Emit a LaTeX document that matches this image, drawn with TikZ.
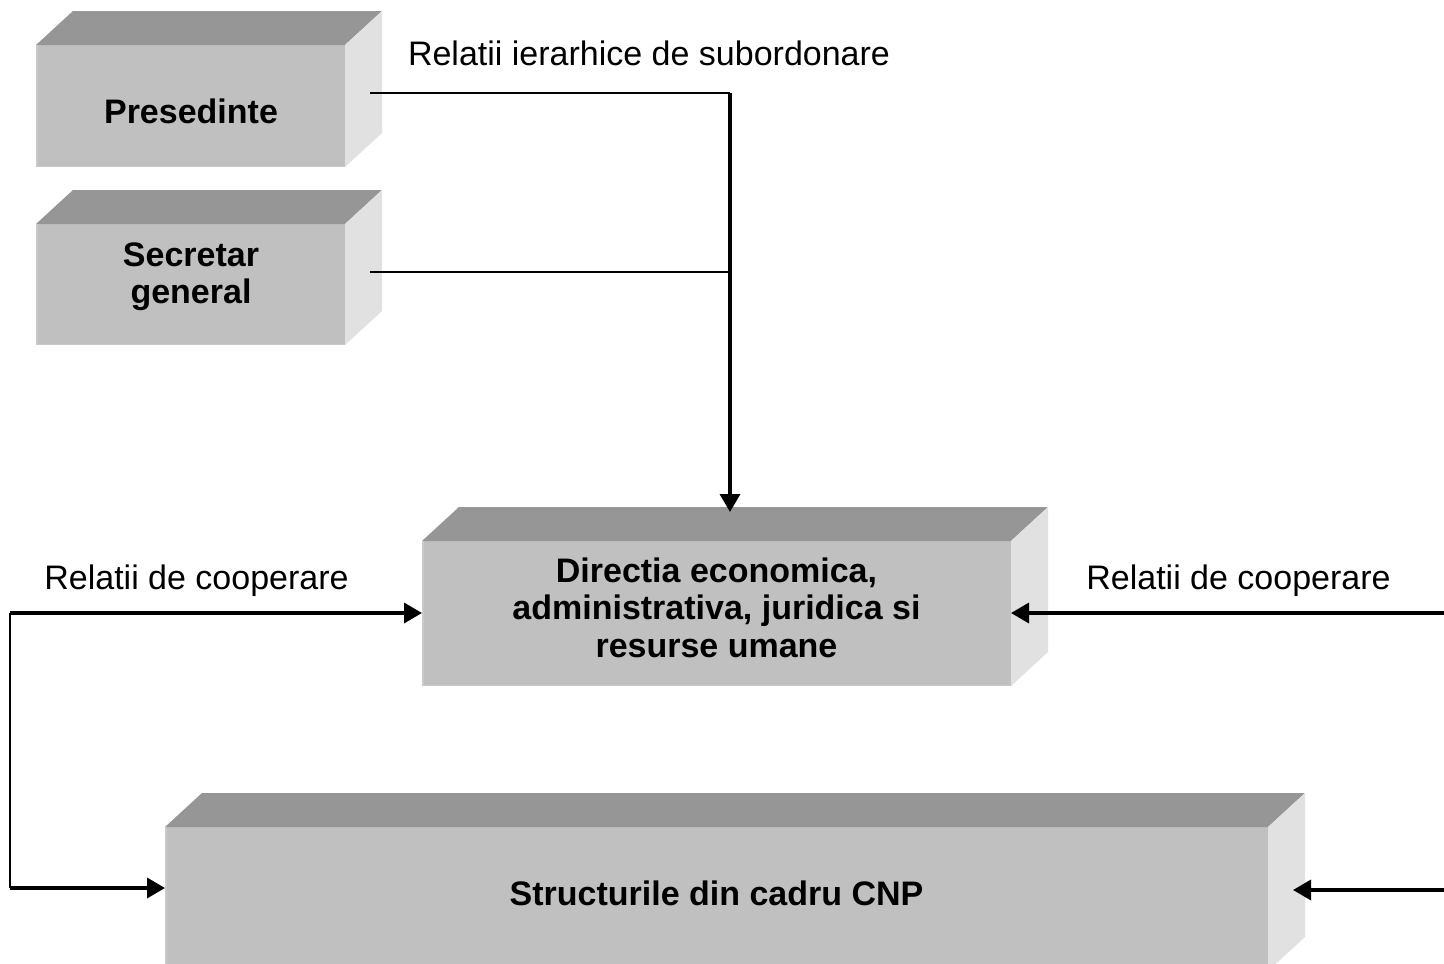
\documentclass[tikz,border=0pt]{standalone}
\usepackage{fontspec}
\setmainfont{Liberation Sans}
\usetikzlibrary{arrows.meta}
\definecolor{facefront}{HTML}{C0C0C0}
\definecolor{facetop}{HTML}{969696}
\definecolor{faceside}{HTML}{E1E1E1}
\definecolor{faceedge}{HTML}{C9C9C9}
\begin{document}
\begin{tikzpicture}[x=1pt,y=-1pt,
  face/.style={fill=facefront, draw=none, inner sep=0pt, outer sep=0pt},
  boxtext/.style={font=\fontsize{34pt}{37.5pt}\selectfont\bfseries, align=center, inner sep=0pt},
  lbl/.style={font=\fontsize{34pt}{36pt}\selectfont, inner sep=0pt, anchor=base},
  feed/.style={line width=2.2pt, line cap=square},
  arr/.style={line width=3.5pt, -{Triangle[length=18pt,width=20pt]}},
]
\clip (0,0) rectangle (1444,964);
\fill[white] (0,0) rectangle (1444,964);

% front faces of the blocks
\node[face, minimum width=309pt, minimum height=122pt] (pres) at (190.5,106) {};
\node[face, minimum width=309pt, minimum height=121pt] (sec) at (190.5,284.5) {};
\node[face, minimum width=589pt, minimum height=145pt] (dir) at (716.5,613.5) {};
\node[face, minimum width=1103pt, minimum height=144pt] (str) at (716.5,899) {};

% top and side faces giving the blocks their depth
\foreach \n in {pres,sec,dir,str} {
  \fill[facetop] (\n.north west) -- ++(37,-34) -- ([shift={(37,-34)}]\n.north east) -- (\n.north east) -- cycle;
  \fill[faceside] (\n.north east) -- ++(37,-34) -- ([shift={(37,-34)}]\n.south east) -- (\n.south east) -- cycle;
  \draw[faceedge, line width=1.5pt] ([shift={(0.75,0)}]\n.north west) -- ([shift={(0.75,-0.75)}]\n.south west) -- ([shift={(0,-0.75)}]\n.south east);
}

% block titles
\node[boxtext, anchor=base] (presT) at (191,123) {Presedinte};
\node[boxtext] (secT) at (191,276.5) {Secretar\\general};
\node[boxtext] (dirT) at (716.5,607.5) {Directia economica,\\administrativa, juridica si\\resurse umane};
\node[boxtext, anchor=base] (strT) at (716.5,905) {Structurile din cadru CNP};

% relation labels
\node[lbl] (hier) at (649,65) {Relatii ierarhice de subordonare};
\node[lbl] (coopL) at (196.5,589) {Relatii de cooperare};
\node[lbl] (coopR) at (1238.5,589) {Relatii de cooperare};

% hierarchical links
\coordinate (presOut) at (370,93);
\coordinate (secOut) at (370,272);
\coordinate (jTop) at (730,93);
\coordinate (jMid) at (730,272);
\coordinate (dirIn) at (730,512);
\draw[feed] (presOut) -- (jTop);
\draw[feed] (secOut) -- (jMid);
\draw[arr] (jTop) -- (dirIn);

% cooperation links, left side
\coordinate (lTop) at (10,613);
\coordinate (lBot) at (10,888);
\draw[feed] (lTop) -- (lBot);
\draw[arr] (lTop) -- (lTop -| dir.west);
\draw[arr] (lBot) -- (lBot -| str.west);

% cooperation links, right side
\coordinate (rTop) at (1444,613);
\coordinate (rBot) at (1444,890);
\draw[arr] (rTop) -- (rTop -| dir.east);
\draw[arr] (rBot) -- ([xshift=25pt]rBot -| str.east);
\end{tikzpicture}
\end{document}
